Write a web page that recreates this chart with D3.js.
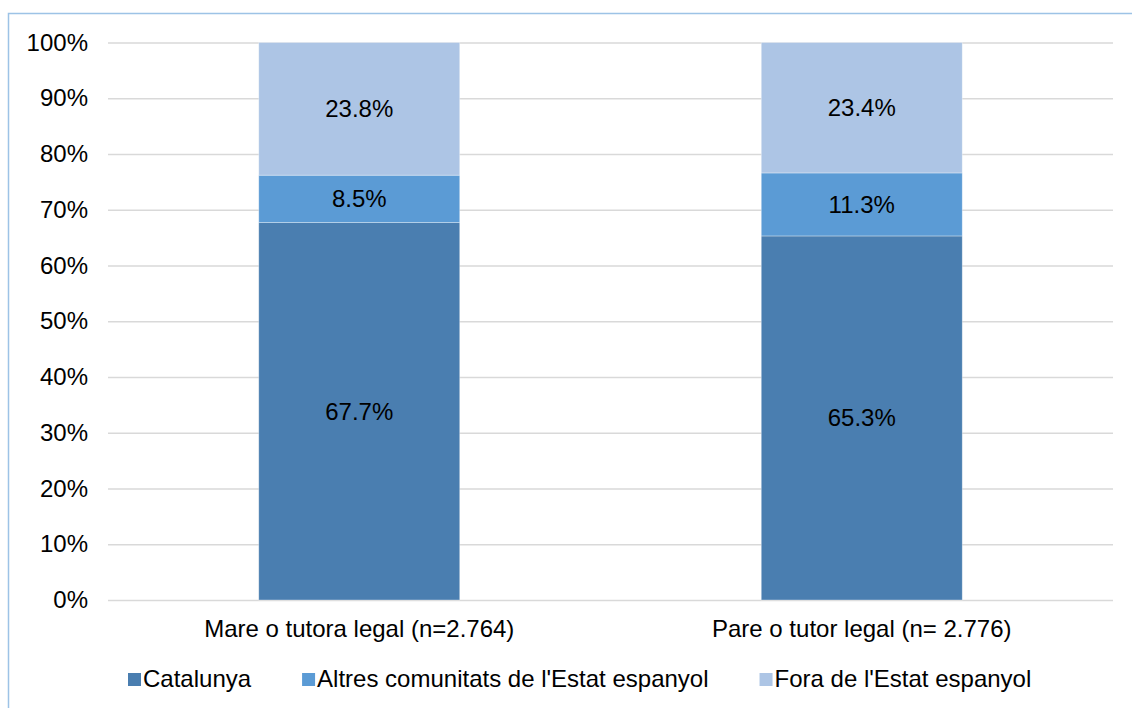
<!DOCTYPE html>
<html>
<head>
<meta charset="utf-8">
<script src="https://cdn.jsdelivr.net/npm/d3@7"></script>
<style>
  body { margin: 0; background: #fff; }
  svg { display: block; font-family: Arial, "Liberation Sans", sans-serif; }
</style>
</head>
<body>
<svg id="chart"></svg>
<script>
// Data
const categories = ['Mare o tutora legal (n=2.764)', 'Pare o tutor legal (n= 2.776)'];
const seriesNames = ['Catalunya', "Altres comunitats de l'Estat espanyol", "Fora de l'Estat espanyol"];
const catalunya = [67.7, 65.3];
const altres = [8.5, 11.3];
const fora = [23.8, 23.4];
const yTicks = [0, 10, 20, 30, 40, 50, 60, 70, 80, 90, 100];

const colors = ['#4a7eb0', '#5b9bd5', '#adc5e5'];

const W = 1132, H = 708;
const margin = { top: 42.5, right: 19, bottom: 108, left: 108 };
const width = W - margin.left - margin.right;
const height = H - margin.top - margin.bottom;

const svg = d3.select('#chart')
  .attr('width', W)
  .attr('height', H);

// Outer chart border (only top and left edges fall inside the picture)
svg.append('rect')
  .attr('x', 8.5)
  .attr('y', 13.5)
  .attr('width', W + 50)
  .attr('height', H + 50)
  .attr('fill', 'none')
  .attr('stroke', '#9dc3e6')
  .attr('stroke-width', 1.5);

const g = svg.append('g')
  .attr('transform', `translate(${margin.left},${margin.top})`);

const x = d3.scaleBand()
  .domain(categories)
  .range([0, width])
  .paddingInner(0.6)
  .paddingOuter(0.3);

const y = d3.scaleLinear()
  .domain([0, 100])
  .range([height, 0]);

// Gridlines + y tick labels
const yAxis = g.append('g')
  .call(d3.axisLeft(y)
    .tickValues(yTicks)
    .tickSize(-width)
    .tickPadding(20)
    .tickFormat(d => d + '%'));
yAxis.select('.domain').remove();
yAxis.selectAll('line').attr('stroke', '#d9d9d9').attr('stroke-width', 1.5);
yAxis.selectAll('text')
  .attr('font-size', 24)
  .attr('fill', '#000')
  .attr('font-family', 'Arial, "Liberation Sans", sans-serif');

// Stack data
const rows = categories.map((c, i) => ({
  cat: c,
  [seriesNames[0]]: catalunya[i],
  [seriesNames[1]]: altres[i],
  [seriesNames[2]]: fora[i]
}));
const stacked = d3.stack().keys(seriesNames)(rows);

const layers = g.selectAll('.layer')
  .data(stacked)
  .enter().append('g')
  .attr('class', 'layer')
  .attr('fill', (d, i) => colors[i]);

layers.selectAll('rect')
  .data(d => d)
  .enter().append('rect')
  .attr('x', d => x(d.data.cat))
  .attr('width', x.bandwidth())
  .attr('y', d => y(d[1]))
  .attr('height', d => y(d[0]) - y(d[1]))
  .attr('stroke', 'rgba(255,255,255,0.45)')
  .attr('stroke-width', 0.75);

layers.selectAll('text')
  .data(d => d.map(v => ({ v, key: d.key })))
  .enter().append('text')
  .attr('x', d => x(d.v.data.cat) + x.bandwidth() / 2)
  .attr('y', d => (y(d.v[0]) + y(d.v[1])) / 2)
  .attr('dy', '0.35em')
  .attr('text-anchor', 'middle')
  .attr('font-size', 24)
  .attr('fill', '#000')
  .text(d => d3.format('.1f')(d.v[1] - d.v[0]) + '%');

// Category axis
const xAxis = g.append('g')
  .attr('transform', `translate(0,${height})`)
  .call(d3.axisBottom(x).tickSize(0).tickPadding(20));
xAxis.select('.domain').remove();
xAxis.selectAll('text')
  .attr('font-size', 24)
  .attr('fill', '#000')
  .attr('font-family', 'Arial, "Liberation Sans", sans-serif');

// Legend
const legend = svg.append('g').attr('transform', 'translate(128, 0)');
let lx = 0;
seriesNames.forEach((name, i) => {
  const item = legend.append('g').attr('transform', `translate(${lx},0)`);
  item.append('rect')
    .attr('x', 0)
    .attr('y', 673)
    .attr('width', 13)
    .attr('height', 13)
    .attr('fill', colors[i]);
  const t = item.append('text')
    .attr('x', 15)
    .attr('y', 687)
    .attr('font-size', 24)
    .attr('fill', '#000')
    .text(name);
  lx += 15 + t.node().getComputedTextLength() + 51;
});
</script>
</body>
</html>
